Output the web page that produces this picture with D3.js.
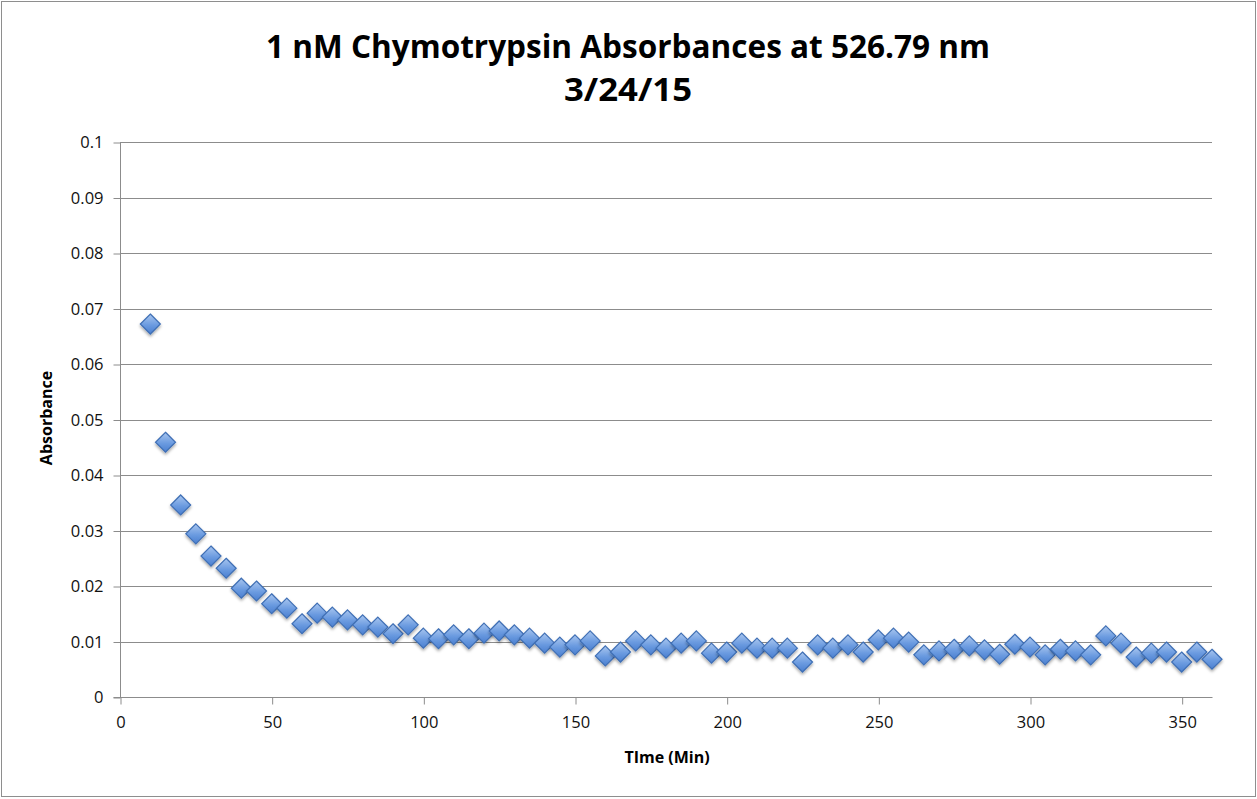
<!DOCTYPE html>
<html>
<head>
<meta charset="utf-8">
<script src="https://cdn.jsdelivr.net/npm/d3@7"></script>
<style>
  body { margin: 0; background: #fff; }
  text { font-family: "Liberation Sans Narrow", "Open Sans", sans-serif; }
</style>
</head>
<body>
<svg id="chart" width="1257" height="799"></svg>
<script>
// time (min) and absorbance
var times = [10,15,20,25,30,35,40,45,50,55,60,65,70,75,80,85,90,95,100,105,110,115,120,125,130,135,140,145,150,155,160,165,170,175,180,185,190,195,200,205,210,215,220,225,230,235,240,245,250,255,260,265,270,275,280,285,290,295,300,305,310,315,320,325,330,335,340,345,350,355,360];
var absorb = [0.0672,0.0459,0.0346,0.0294,0.0254,0.0232,0.0196,0.0191,0.0168,0.0160,0.0132,0.0151,0.0144,0.0139,0.0130,0.0126,0.0114,0.0130,0.0106,0.0105,0.0112,0.0105,0.0115,0.0119,0.0112,0.0106,0.0097,0.0090,0.0094,0.0101,0.0074,0.0081,0.0101,0.0094,0.0088,0.0097,0.0101,0.0079,0.0081,0.0097,0.0088,0.0088,0.0088,0.0063,0.0094,0.0088,0.0094,0.0081,0.0103,0.0106,0.0099,0.0076,0.0083,0.0086,0.0092,0.0085,0.0077,0.0095,0.0090,0.0076,0.0086,0.0083,0.0076,0.0110,0.0097,0.0072,0.0079,0.0081,0.0063,0.0081,0.0068];
var yTicks = [0,0.01,0.02,0.03,0.04,0.05,0.06,0.07,0.08,0.09,0.1];
var xTicks = [0,50,100,150,200,250,300,350];

var svg = d3.select("#chart");
var plotL = 120, plotR = 1212, plotT = 142, plotB = 697;

var x = d3.scaleLinear().domain([0,360]).range([plotL,plotR]);
var y = d3.scaleLinear().domain([0,0.1]).range([plotB,plotT]);

// outer frame
svg.append("rect").attr("x",1.5).attr("y",1.5).attr("width",1254).attr("height",795)
  .attr("fill","#fff").attr("stroke","#8e8e8e").attr("stroke-width",1);

var defs = svg.append("defs");
var grad = defs.append("linearGradient").attr("id","dia").attr("x1","0").attr("y1","0").attr("x2","0").attr("y2","1");
grad.append("stop").attr("offset","0%").attr("stop-color","#a9c6ef");
grad.append("stop").attr("offset","55%").attr("stop-color","#6b9be0");
grad.append("stop").attr("offset","100%").attr("stop-color","#4a7fd0");
var sh = defs.append("filter").attr("id","shadow").attr("x","-50%").attr("y","-50%").attr("width","200%").attr("height","200%");
sh.append("feDropShadow").attr("dx",0).attr("dy",2).attr("stdDeviation",1.5).attr("flood-color","#000").attr("flood-opacity",0.35);

// gridlines
svg.append("g").selectAll("line").data(yTicks.slice(1)).enter().append("line")
  .attr("x1",plotL).attr("x2",plotR)
  .attr("y1",function(d){return Math.round(y(d))+0.5;})
  .attr("y2",function(d){return Math.round(y(d))+0.5;})
  .attr("stroke","#8c8c8c").attr("stroke-width",1);

// y axis
var yAxis = d3.axisLeft(y).tickValues(yTicks).tickSize(7).tickPadding(6)
  .tickFormat(function(d){return d===0 ? "0" : String(+d.toFixed(2));});
var gy = svg.append("g").attr("transform","translate("+(plotL+0.5)+",0.5)").call(yAxis);
gy.select(".domain").attr("stroke","#8c8c8c").attr("d","M0,"+plotT+"V"+plotB);
gy.selectAll(".tick line").attr("stroke","#8c8c8c");
gy.selectAll(".tick text").attr("font-size",16.5).attr("fill","#111").attr("dx",-4);

// x axis
var xAxis = d3.axisBottom(x).tickValues(xTicks).tickSize(7).tickPadding(12);
var gx = svg.append("g").attr("transform","translate(0.5,"+(plotB+0.5)+")").call(xAxis);
gx.select(".domain").attr("stroke","#8c8c8c").attr("d","M"+(plotL-7)+",0H"+plotR);
gx.selectAll(".tick line").attr("stroke","#8c8c8c");
gx.selectAll(".tick text").attr("font-size",16.5).attr("fill","#111");

// points
svg.append("g").selectAll("path").data(times).enter().append("path")
  .attr("d","M0,-10L10,0L0,10L-10,0Z")
  .attr("transform",function(d,i){return "translate("+x(d)+","+y(absorb[i])+")";})
  .attr("fill","url(#dia)").attr("stroke","#3f6fb5").attr("stroke-width",1.2)
  .attr("filter","url(#shadow)");

// titles
svg.append("text").attr("x",628).attr("y",58).attr("text-anchor","middle")
  .attr("font-size",32).attr("font-weight","bold").attr("fill","#000")
  .attr("textLength",724).attr("lengthAdjust","spacingAndGlyphs")
  .text("1 nM Chymotrypsin Absorbances at 526.79 nm");
svg.append("text").attr("x",628).attr("y",101).attr("text-anchor","middle")
  .attr("font-size",32).attr("font-weight","bold").attr("fill","#000")
  .attr("textLength",128).attr("lengthAdjust","spacingAndGlyphs")
  .text("3/24/15");

svg.append("text").attr("x",667).attr("y",763).attr("text-anchor","middle")
  .attr("font-size",16).attr("font-weight","bold").attr("fill","#000")
  .text("TIme (Min)");
svg.append("text").attr("transform","translate(52,418) rotate(-90)").attr("text-anchor","middle")
  .attr("font-size",16).attr("font-weight","bold").attr("fill","#000")
  .text("Absorbance");
</script>
</body>
</html>
